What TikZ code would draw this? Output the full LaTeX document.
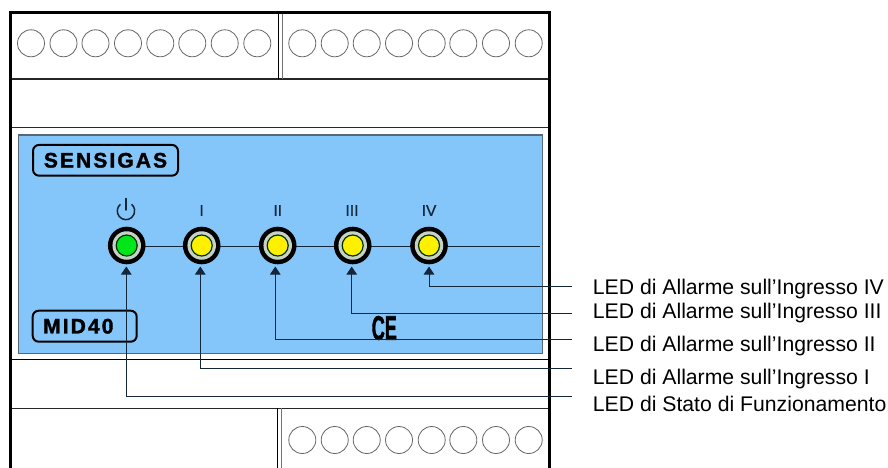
\documentclass[tikz,border=0pt]{standalone}
\usepackage{fontspec}
\usepackage{graphicx}
\setmainfont{Liberation Sans}
\newfontfamily\badgefont[LetterSpace=10,FakeBold=1.6]{Liberation Sans}
\newfontfamily\markfont[FakeBold=0.8]{Liberation Sans}
\newfontfamily\cefont[FakeBold=2]{Liberation Sans}
\usetikzlibrary{arrows.meta}
\definecolor{panelblue}{HTML}{85C6FA}
\definecolor{paneledge}{HTML}{566878}
\definecolor{wiredark}{HTML}{14263A}
\definecolor{ringgray}{HTML}{C6D2C8}
\definecolor{ledyellow}{HTML}{FFF000}
\definecolor{ledgreen}{HTML}{00E619}
\tikzset{
  terminal/.style={circle,draw=black!60,line width=0.8pt,minimum size=27pt,inner sep=0pt},
  badge/.style={draw=black,line width=2pt,rounded corners=6pt,inner sep=0pt,text=black,font=\badgefont\fontsize{21}{21}\selectfont\bfseries,anchor=center},
  ledmark/.style={text=wiredark,font=\markfont\fontsize{15.5}{15.5}\selectfont,inner sep=0pt},
  ledlabel/.style={anchor=west,inner sep=0pt,text=black,font=\fontsize{21.2}{24}\selectfont},
  callout/.style={draw=wiredark,line width=0.9pt,-{Triangle[length=8pt,width=10.5pt]}},
  lamp/.style={circle,inner sep=0pt,minimum size=#1}
}
\begin{document}
\begin{tikzpicture}[x=1pt,y=-1pt]
\useasboundingbox (0,0) rectangle (888,468);
\fill[white] (0,0) rectangle (888,468);
\fill[panelblue,draw=paneledge,line width=1.5pt] (18.3,135) rectangle (542.3,353.7); % panel
\draw[line width=1.3pt,black!85] (10,79) -- (549,79); % top block
\draw[line width=0.8pt,black!85] (10,127.7) -- (549,127.7);
\draw[line width=0.8pt,black] (10,359.7) -- (549,359.7);
\draw[line width=1.5pt,black!85] (10,408.3) -- (549,408.3); % bottom block
\draw[line width=0.9pt,black] (278.5,13) -- (278.5,79); % top divider
\draw[line width=0.9pt,black!55] (282,13) -- (282,79);
\draw[line width=0.9pt,black] (277.3,408) -- (277.3,468); % bottom divider
\draw[line width=0.9pt,black!55] (281.7,408) -- (281.7,468);
\draw[line width=3pt] (10.3,468) -- (10.3,12.8) -- (549.5,12.8) -- (549.5,468); % case
\foreach \x in {31,63.5,95.5,128,160.3,192.3,224.7,257.3}
  \node[terminal] at (\x,43.3) {}; % top left terminals
\foreach \x in {302.3,334.7,366.7,399,431.7,463.3,496,528.7}{
  \node[terminal] at (\x,43.3) {}; % top right terminals
  \node[terminal] at (\x,440) {}; % bottom terminals
}
\node[badge,minimum width=145pt,minimum height=30.7pt] (sensigas) at (105.5,160.3) {SENSIGAS};
\node[badge,minimum width=104pt,minimum height=31pt,text width=93pt,align=left] (mid40) at (84.7,326.2) {\hspace*{5pt}MID40};
\draw[draw=wiredark,line width=1pt] (126.7,246) -- (540,246); % LED bus
\foreach \name/\x/\col in {Power/126.7/ledgreen,I/201.7/ledyellow,II/277.7/ledyellow,III/352.7/ledyellow,IV/429/ledyellow}{
  \node[lamp=37.6pt,fill=black] (led\name) at (\x,245.5) {};
  \node[lamp=28.5pt,fill=ringgray] at (led\name) {};
  \node[lamp=21pt,fill=\col,draw=black!80!green,line width=1.2pt] at (led\name) {};
}
\draw[wiredark,line width=1.5pt] (120.4,204.3) arc (230:-50:8.7); % power icon
\draw[wiredark,line width=1.5pt,line cap=round] (126,198.5) -- (126,210); % power icon
\node[ledmark] (markI) at (201.7,210.5) {I};
\node[ledmark] (markII) at (277.7,210.5) {II};
\node[ledmark] (markIII) at (352,210.5) {III};
\node[ledmark] (markIV) at (429,210.5) {IV};
\node[inner sep=0pt,text=black] (ce) at (384.3,328) {\scalebox{0.53}[1]{\cefont\fontsize{34}{34}\selectfont\bfseries CE}};
\node[ledlabel] (labelIV) at (592.7,288.8) {LED di Allarme sull’Ingresso IV};
\node[ledlabel] (labelIII) at (592.7,312.8) {LED di Allarme sull’Ingresso III};
\node[ledlabel] (labelII) at (592.7,346.2) {LED di Allarme sull’Ingresso II};
\node[ledlabel] (labelI) at (592.7,379.5) {LED di Allarme sull’Ingresso I};
\node[ledlabel] (labelPower) at (592.7,403.5) {LED di Stato di Funzionamento};
\coordinate (endIV) at (571.7,286); % free ends
\coordinate (endIII) at (571.7,313.5);
\coordinate (endII) at (571.7,339.3);
\coordinate (endI) at (571.7,368.3);
\coordinate (endPower) at (571.7,396.7);
\draw[callout] (endIV) -| ([yshift=-2pt]ledIV.south);
\draw[callout] (endIII) -| ([shift={(-1,2)}]ledIII.south);
\draw[callout] (endII) -| ([shift={(-2.4,2)}]ledII.south);
\draw[callout] (endI) -| ([shift={(-1.4,2)}]ledI.south);
\draw[callout] (endPower) -| ([shift={(-0.4,2)}]ledPower.south);
\end{tikzpicture}
\end{document}
